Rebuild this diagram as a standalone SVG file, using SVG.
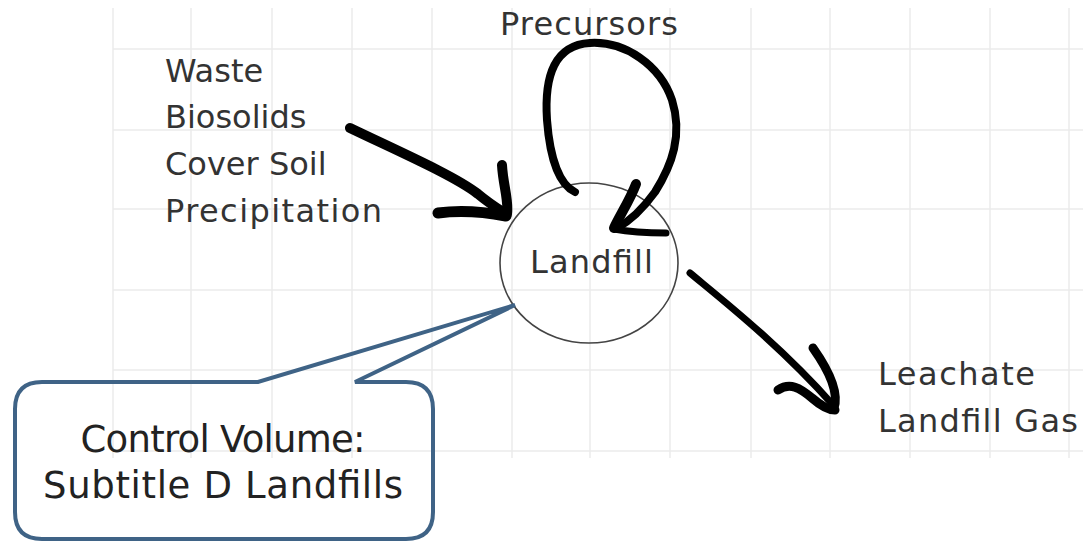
<svg xmlns="http://www.w3.org/2000/svg" width="1083" height="541" viewBox="0 0 1083 541">
<style>
.grid line{stroke:#ebebeb;stroke-width:1.5}
.hand{font-family:"DejaVu Sans","Noto Sans",sans-serif;font-size:32px;fill:#333}
.callout-text{font-family:"DejaVu Sans","Noto Sans",sans-serif;font-size:37px;fill:#222;text-anchor:middle}
.ink{fill:none;stroke:#000;stroke-linecap:round;stroke-linejoin:round}
</style>
<rect width="1083" height="541" fill="#fff"/>
<g id="grid" class="grid">
<line x1="113" y1="8" x2="113" y2="458"/><line x1="191" y1="8" x2="191" y2="458"/><line x1="272" y1="8" x2="272" y2="458"/><line x1="352" y1="8" x2="352" y2="458"/><line x1="432" y1="8" x2="432" y2="458"/><line x1="512" y1="8" x2="512" y2="458"/><line x1="590" y1="8" x2="590" y2="458"/><line x1="670" y1="8" x2="670" y2="458"/><line x1="751" y1="8" x2="751" y2="458"/><line x1="830" y1="8" x2="830" y2="458"/><line x1="910" y1="8" x2="910" y2="458"/><line x1="990" y1="8" x2="990" y2="458"/><line x1="1069" y1="8" x2="1069" y2="458"/>
<line x1="113" y1="49" x2="1083" y2="49"/><line x1="113" y1="130" x2="1083" y2="130"/><line x1="113" y1="209" x2="1083" y2="209"/><line x1="113" y1="290" x2="1083" y2="290"/><line x1="113" y1="370" x2="1083" y2="370"/><line x1="113" y1="451" x2="1083" y2="451"/>
</g>
<g id="node-inputs">
<text class="hand" x="165" y="82">Waste</text>
<text class="hand" x="165" y="128">Biosolids</text>
<text class="hand" x="165" y="175">Cover Soil</text>
<text class="hand" x="165" y="222" textLength="217">Precipitation</text>
</g>
<g id="node-precursors">
<text class="hand" x="500" y="35" textLength="178">Precursors</text>
</g>
<g id="node-landfill">
<ellipse cx="589" cy="263" rx="89" ry="80" fill="none" stroke="#444" stroke-width="1.6"/>
<text class="hand" x="530" y="273" textLength="123">Landfill</text>
</g>
<g id="node-outputs">
<text class="hand" x="878" y="385" textLength="157">Leachate</text>
<text class="hand" x="878" y="432" textLength="200">Landfill Gas</text>
</g>
<g id="node-callout">
<path d="M42,382 L258,382 L515,305 L355,382 L406,382 Q433,382 433,409 L433,512 Q433,539 406,539 L42,539 Q15,539 15,512 L15,409 Q15,382 42,382 Z" fill="none" stroke="#3f6386" stroke-width="4" stroke-linejoin="miter"/>
<text class="callout-text" x="223" y="452" textLength="285">Control Volume:</text>
<text class="callout-text" x="223" y="498" textLength="360">Subtitle D Landfills</text>
</g>
<g id="connectors">
<path class="ink" stroke-width="10" d="M350,128 C400,152 455,176 478,194 C490,204 500,210 506,214"/>
<path class="ink" stroke-width="10" d="M502,165 C503,185 509,200 507,214"/>
<path class="ink" stroke-width="11" d="M438,213 C460,210 485,212 506,216"/>
<path class="ink" stroke-width="8" d="M575,192 C560,185 550,160 547,120 C544,75 555,45 590,43 C625,41 660,65 672,100 C683,135 672,165 655,192 C642,210 628,222 617,228"/>
<path class="ink" stroke-width="10" d="M636,184 C630,200 620,215 614,228"/>
<path class="ink" stroke-width="7" d="M614,229 C630,232 650,233 666,233"/>
<path class="ink" stroke-width="7" d="M690,273 C720,298 780,345 833,405"/>
<path class="ink" stroke-width="9" d="M813,348 C825,365 840,390 834,408"/>
<path class="ink" stroke-width="9" d="M778,390 C790,382 800,388 812,398 C820,405 828,410 835,410"/>
</g>
</svg>
